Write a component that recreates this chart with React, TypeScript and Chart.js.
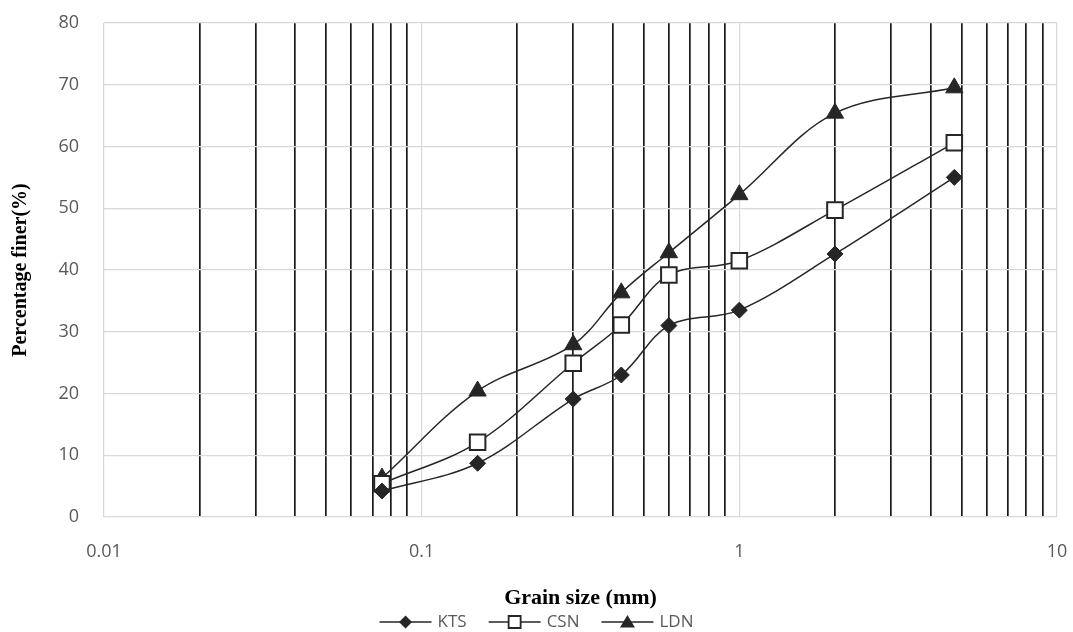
import React, { useEffect, useRef } from "react";
import { Chart, registerables } from "chart.js";

Chart.register(...registerables);

const grainSizes = [0.075, 0.15, 0.3, 0.425, 0.6, 1, 2, 4.75];
const ktsValues = [4.2, 8.7, 19.1, 23.0, 31.0, 33.5, 42.6, 55.0];
const csnValues = [5.4, 12.1, 24.9, 31.1, 39.2, 41.5, 49.7, 60.6];
const ldnValues = [6.3, 20.4, 27.9, 36.3, 42.8, 52.2, 65.4, 69.5];

const xTickValues = [
  0.01, 0.02, 0.03, 0.04, 0.05, 0.06, 0.07, 0.08, 0.09,
  0.1, 0.2, 0.3, 0.4, 0.5, 0.6, 0.7, 0.8, 0.9,
  1, 2, 3, 4, 5, 6, 7, 8, 9,
  10,
];
const xLabelTicks = [0.01, 0.1, 1, 10];
const xTickLabels = ["0.01", "0.1", "1", "10"];

const seriesNames = ["KTS", "CSN", "LDN"];
const seriesMarkers = ["rectRot", "rect", "triangle"];

const LINE = "#262626";
const TEXT = "#595959";

const legendPlugin = {
  id: "lineMarkerLegend",
  afterDraw(chart: any) {
    const ctx = chart.ctx;
    const y = 622;
    const lineLen = 52;
    const gap = 6;
    const spacing = 22;
    ctx.save();
    ctx.font = '17px "Open Sans"';
    const widths = seriesNames.map((n) => ctx.measureText(n).width);
    const total = widths.reduce((a, w) => a + lineLen + gap + w, 0) + spacing * (seriesNames.length - 1);
    let x = chart.width / 2 - total / 2;
    seriesNames.forEach((name, i) => {
      ctx.strokeStyle = LINE;
      ctx.lineWidth = 1.5;
      ctx.beginPath();
      ctx.moveTo(x, y);
      ctx.lineTo(x + lineLen, y);
      ctx.stroke();
      const cx = x + lineLen / 2;
      ctx.lineWidth = 1.8;
      ctx.fillStyle = i === 1 ? "#ffffff" : LINE;
      ctx.beginPath();
      if (i === 0) {
        ctx.moveTo(cx - 6.5, y);
        ctx.lineTo(cx, y - 6.5);
        ctx.lineTo(cx + 6.5, y);
        ctx.lineTo(cx, y + 6.5);
        ctx.closePath();
        ctx.fill();
      } else if (i === 1) {
        ctx.rect(cx - 6, y - 6, 12, 12);
        ctx.fill();
        ctx.stroke();
      } else {
        ctx.moveTo(cx, y - 7);
        ctx.lineTo(cx + 7.5, y + 5.5);
        ctx.lineTo(cx - 7.5, y + 5.5);
        ctx.closePath();
        ctx.fill();
      }
      ctx.fillStyle = TEXT;
      ctx.textBaseline = "middle";
      ctx.textAlign = "left";
      ctx.fillText(name, x + lineLen + gap, y);
      x += lineLen + gap + widths[i] + spacing;
    });
    ctx.restore();
  },
};

export default function App() {
  const canvasRef = useRef<HTMLCanvasElement | null>(null);

  useEffect(() => {
    const canvas = canvasRef.current;
    if (!canvas) return;
    const seriesValues = [ktsValues, csnValues, ldnValues];
    const chart = new Chart(canvas, {
      type: "line",
      data: {
        datasets: seriesNames.map((name, i) => ({
          label: name,
          data: grainSizes.map((g, j) => ({ x: g, y: seriesValues[i][j] })),
          borderColor: LINE,
          borderWidth: 1.5,
          backgroundColor: i === 1 ? "#ffffff" : LINE,
          pointBackgroundColor: i === 1 ? "#ffffff" : LINE,
          pointBorderColor: LINE,
          pointBorderWidth: i === 1 ? 2 : 1,
          pointStyle: seriesMarkers[i] as any,
          pointRadius: i === 0 ? 8 : i === 1 ? 11 : 10,
          tension: 0.35,
          fill: false,
        })),
      },
      plugins: [legendPlugin],
      options: {
        responsive: false,
        animation: false,
        layout: { padding: { left: 0, right: 16, top: 23, bottom: 20 } },
        plugins: {
          legend: { display: false },
          tooltip: { enabled: false },
        },
        scales: {
          x: {
            type: "logarithmic",
            min: 0.01,
            max: 10,
            afterBuildTicks: (scale: any) => {
              scale.ticks = xTickValues.map((v) => ({ value: v, major: xLabelTicks.includes(v) }));
            },
            afterFit: (scale: any) => {
              scale.height = 95;
              scale.paddingLeft = 0;
              scale.paddingRight = 0;
            },
            border: { display: false },
            grid: {
              drawTicks: false,
              color: (c: any) => (c.tick && xLabelTicks.includes(c.tick.value) ? "#d9d9d9" : "#1a1a1a"),
              lineWidth: (c: any) => (c.tick && xLabelTicks.includes(c.tick.value) ? 1.2 : 1.7),
            },
            ticks: {
              autoSkip: false,
              maxRotation: 0,
              padding: 24,
              color: TEXT,
              font: { family: "Open Sans", size: 18 },
              callback: (value: any) => {
                const k = xLabelTicks.indexOf(Number(value));
                return k >= 0 ? xTickLabels[k] : "";
              },
            },
            title: {
              display: true,
              text: "Grain size (mm)",
              color: "#000000",
              font: { family: "Liberation Serif", size: 22, weight: "bold" },
              padding: { top: 0, bottom: 0 },
            },
          },
          y: {
            min: 0,
            max: 80,
            afterFit: (scale: any) => {
              scale.width = 104;
              scale.paddingTop = 0;
              scale.paddingBottom = 0;
            },
            border: { display: false },
            grid: { drawTicks: false, color: "#d9d9d9", lineWidth: 1.2 },
            ticks: {
              stepSize: 10,
              padding: 25,
              color: TEXT,
              font: { family: "Open Sans", size: 18 },
            },
            title: {
              display: true,
              text: "Percentage finer(%)",
              color: "#000000",
              font: { family: "Liberation Serif", size: 20, weight: "bold" },
              padding: { top: 9, bottom: 0 },
            },
          },
        },
      },
    });
    return () => chart.destroy();
  }, []);

  return (
    <canvas
      ref={canvasRef}
      width={1073}
      height={632}
      style={{ position: "fixed", left: 0, top: 0, width: 1073, height: 632, background: "#ffffff" }}
    />
  );
}
